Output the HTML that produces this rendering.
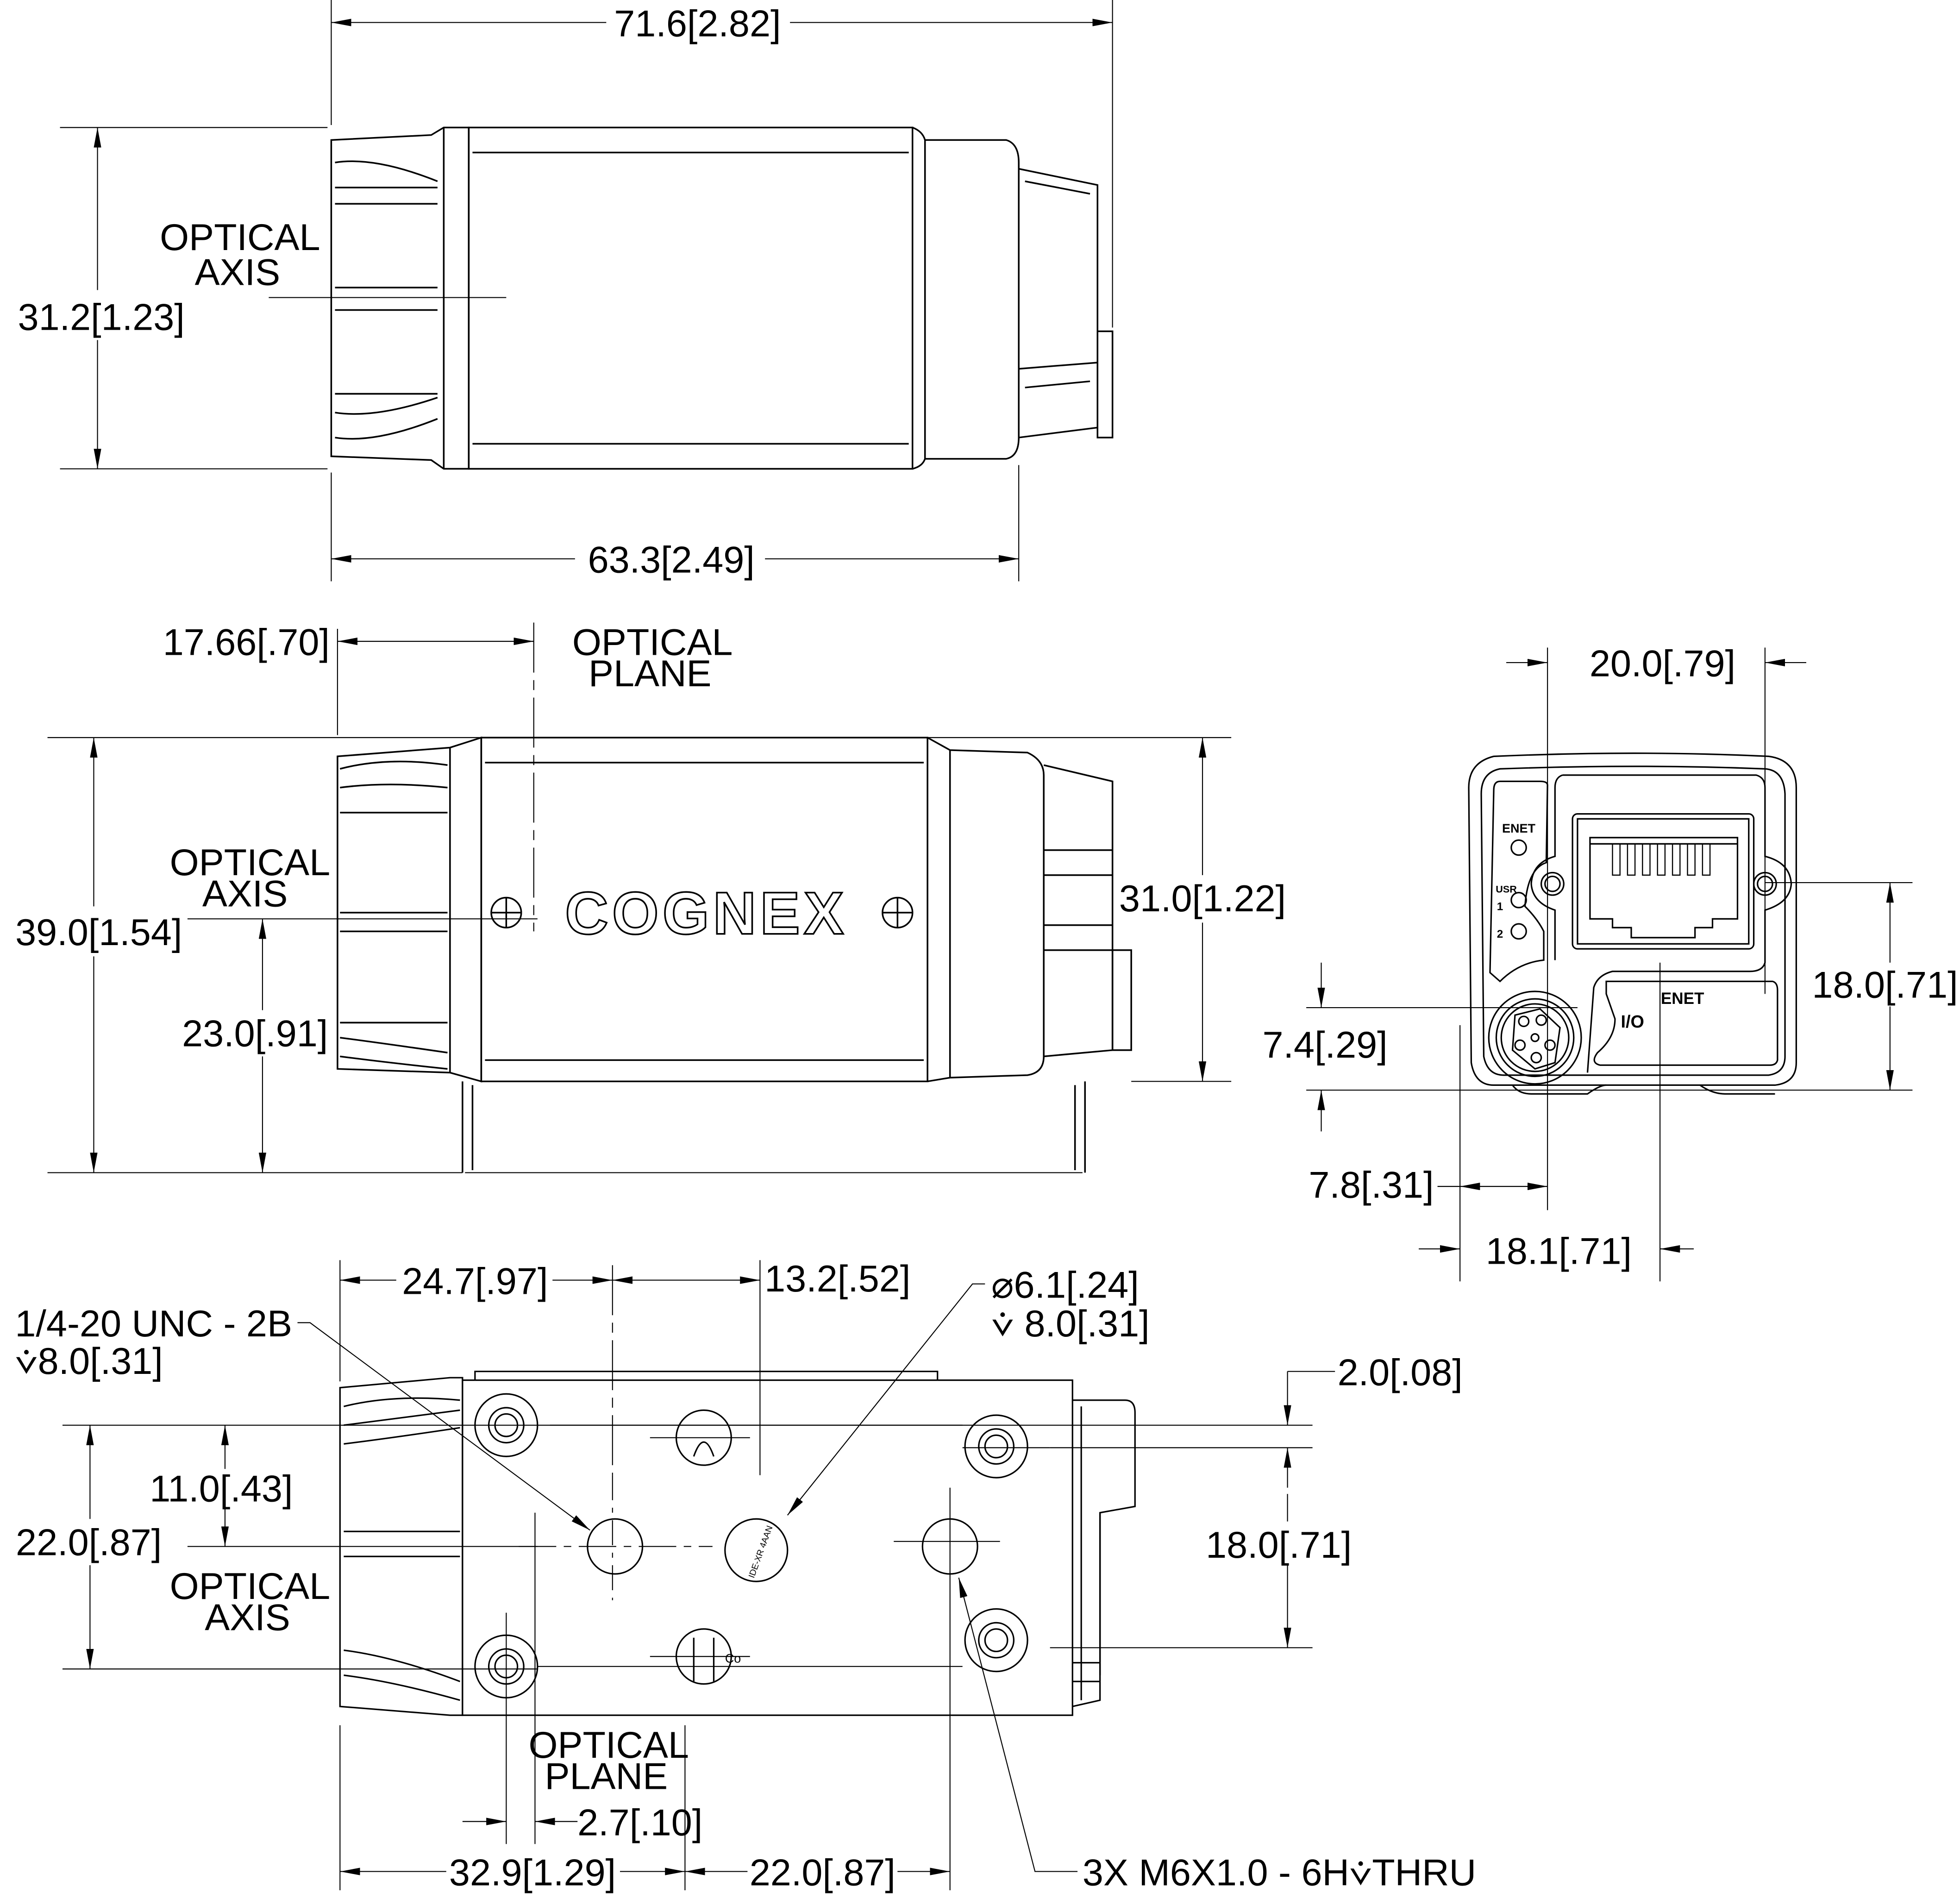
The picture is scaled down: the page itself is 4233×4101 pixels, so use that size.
<!DOCTYPE html>
<html><head><meta charset="utf-8"><style>
html,body{margin:0;padding:0;background:#fff;}
svg{display:block;}
text{font-family:"Liberation Sans",sans-serif;font-size:30px;fill:#000;}
</style></head><body>
<svg width="4233" height="4101" viewBox="0 0 1568 1519" preserveAspectRatio="none" xmlns="http://www.w3.org/2000/svg">
<defs>
<marker id="a" viewBox="0 0 16 6" refX="16" refY="3" markerWidth="16" markerHeight="6" markerUnits="userSpaceOnUse" orient="auto-start-reverse"><path d="M0,0 L16,3 L0,6 z" fill="#000"/></marker>
</defs>
<rect width="1568" height="1519" fill="#fff"/>
<g fill="none" stroke="#000" stroke-width="0.8">
<line x1="265" y1="0" x2="265" y2="100"/><line x1="890" y1="0" x2="890" y2="262"/>
<line x1="265" y1="18" x2="485" y2="18" marker-start="url(#a)"/><line x1="632" y1="18" x2="890" y2="18" marker-end="url(#a)"/>
<line x1="48" y1="102" x2="262" y2="102"/><line x1="48" y1="375" x2="262" y2="375"/>
<line x1="78" y1="102" x2="78" y2="232" marker-start="url(#a)"/><line x1="78" y1="272" x2="78" y2="375" marker-end="url(#a)"/>
<line x1="265" y1="378" x2="265" y2="465"/><line x1="815" y1="372" x2="815" y2="465"/>
<line x1="265" y1="447" x2="460" y2="447" marker-start="url(#a)"/><line x1="612" y1="447" x2="815" y2="447" marker-end="url(#a)"/>
<line x1="215" y1="238" x2="405" y2="238"/>
</g>
<g fill="none" stroke="#000" stroke-width="1.3">
<path d="M265,112 L345,108 L355,102 L375,102 L375,375 L355,375 L345,368 L265,365 Z"/>
<line x1="355" y1="102" x2="355" y2="375"/>
<path d="M268,130 Q300,125 350,145"/><path d="M268,150 L350,150"/><path d="M268,163 L350,163"/>
<path d="M268,230 L350,230"/><path d="M268,248 L350,248"/><path d="M268,315 L350,315"/>
<path d="M268,330 Q300,335 350,318"/><path d="M268,350 Q300,355 350,335"/>
<rect x="375" y="102" width="355" height="273"/>
<line x1="378" y1="122" x2="727" y2="122"/><line x1="378" y1="355" x2="727" y2="355"/>
<path d="M730,102 Q738,105 740,112 L805,112 Q815,115 815,130 L815,350 Q815,365 805,367 L740,367 Q738,373 730,375"/>
<line x1="740" y1="112" x2="740" y2="367"/>
<path d="M815,135 L878,148 L878,342 L815,350"/><line x1="820" y1="145" x2="872" y2="155"/>
<line x1="815" y1="295" x2="878" y2="290"/><line x1="820" y1="310" x2="872" y2="305"/>
<rect x="878" y="265" width="12" height="85"/>
</g>
<text x="192" y="200" text-anchor="middle">OPTICAL</text><text x="190" y="228" text-anchor="middle">AXIS</text>
<text x="558" y="29" text-anchor="middle">71.6[2.82]</text>
<text x="81" y="264" text-anchor="middle">31.2[1.23]</text>
<text x="537" y="458" text-anchor="middle">63.3[2.49]</text>

<g fill="none" stroke="#000" stroke-width="0.8">
<line x1="270" y1="503" x2="270" y2="588"/><line x1="427" y1="498" x2="427" y2="745" stroke-dasharray="40 6 8 6"/>
<line x1="270" y1="513" x2="427" y2="513" marker-start="url(#a)" marker-end="url(#a)"/>
<line x1="38" y1="590" x2="985" y2="590"/><line x1="38" y1="938" x2="370" y2="938"/>
<line x1="75" y1="590" x2="75" y2="725" marker-start="url(#a)"/><line x1="75" y1="765" x2="75" y2="938" marker-end="url(#a)"/>
<line x1="905" y1="865" x2="985" y2="865"/>
<line x1="962" y1="590" x2="962" y2="700" marker-start="url(#a)"/><line x1="962" y1="738" x2="962" y2="865" marker-end="url(#a)"/>
<line x1="150" y1="735" x2="430" y2="735"/>
<line x1="210" y1="735" x2="210" y2="808" marker-start="url(#a)"/><line x1="210" y1="845" x2="210" y2="938" marker-end="url(#a)"/>
</g>
<g fill="none" stroke="#000" stroke-width="1.3">
<path d="M270,605 L360,598 L385,590 L385,865 L360,858 L270,855 Z"/>
<line x1="360" y1="598" x2="360" y2="858"/>
<path d="M272,615 Q310,605 358,612"/><path d="M272,630 Q310,625 358,630"/>
<line x1="272" y1="650" x2="358" y2="650"/><line x1="272" y1="730" x2="358" y2="730"/>
<line x1="272" y1="745" x2="358" y2="745"/><line x1="272" y1="818" x2="358" y2="818"/>
<path d="M272,830 Q310,835 358,842"/><path d="M272,845 Q310,850 358,855"/>
<rect x="385" y="590" width="357" height="275"/>
<line x1="388" y1="610" x2="739" y2="610"/><line x1="388" y1="848" x2="739" y2="848"/>
<path d="M742,590 L760,600 L822,602 Q835,608 835,620 L835,845 Q835,858 822,860 L760,862 L742,865"/>
<line x1="760" y1="600" x2="760" y2="862"/>
<path d="M835,612 L890,625 L890,840 L835,845"/>
<line x1="835" y1="680" x2="890" y2="680"/><line x1="835" y1="700" x2="890" y2="700"/>
<line x1="835" y1="740" x2="890" y2="740"/><line x1="835" y1="760" x2="890" y2="760"/>
<rect x="890" y="760" width="15" height="80"/>
<path d="M370,865 L370,938 M868,865 L868,938"/><line x1="372" y1="938" x2="866" y2="938" stroke-width="0.8"/>
<line x1="378" y1="868" x2="378" y2="936"/><line x1="860" y1="868" x2="860" y2="936"/>
<circle cx="405" cy="730" r="12"/><path d="M393,730 h24 M405,718 v24"/>
<circle cx="718" cy="730" r="12"/><path d="M706,730 h24 M718,718 v24"/>
</g>
<text x="565" y="747" text-anchor="middle" style="font-size:48px;font-weight:bold;fill:#fff;stroke:#000;stroke-width:1.3;letter-spacing:3px">COGNEX</text>
<text x="522" y="524" text-anchor="middle">OPTICAL</text><text x="520" y="549" text-anchor="middle">PLANE</text>
<text x="200" y="700" text-anchor="middle">OPTICAL</text><text x="196" y="725" text-anchor="middle">AXIS</text>
<text x="197" y="524" text-anchor="middle">17.66[.70]</text>
<text x="79" y="756" text-anchor="middle">39.0[1.54]</text>
<text x="962" y="729" text-anchor="middle">31.0[1.22]</text>
<text x="204" y="837" text-anchor="middle">23.0[.91]</text>

<g fill="none" stroke="#000" stroke-width="0.8">
<line x1="1238" y1="518" x2="1238" y2="968"/><line x1="1412" y1="518" x2="1412" y2="795"/>
<line x1="1205" y1="530" x2="1238" y2="530" marker-end="url(#a)"/><line x1="1445" y1="530" x2="1412" y2="530" marker-end="url(#a)"/>
<line x1="1412" y1="706" x2="1530" y2="706"/><line x1="1045" y1="872" x2="1530" y2="872"/>
<line x1="1512" y1="706" x2="1512" y2="770" marker-start="url(#a)"/><line x1="1512" y1="805" x2="1512" y2="872" marker-end="url(#a)"/>
<line x1="1045" y1="806" x2="1262" y2="806"/>
<line x1="1057" y1="770" x2="1057" y2="806" marker-end="url(#a)"/><line x1="1057" y1="905" x2="1057" y2="872" marker-end="url(#a)"/>
<line x1="1168" y1="820" x2="1168" y2="1025"/><line x1="1328" y1="770" x2="1328" y2="1025"/>
<line x1="1150" y1="949" x2="1168" y2="949"/><line x1="1168" y1="949" x2="1238" y2="949" marker-start="url(#a)" marker-end="url(#a)"/>
<line x1="1135" y1="999" x2="1168" y2="999" marker-end="url(#a)"/><line x1="1355" y1="999" x2="1328" y2="999" marker-end="url(#a)"/>
</g>
<g fill="none" stroke="#000" stroke-width="1.2">
<path d="M1195,605 Q1175,610 1175,630 L1177,850 Q1180,868 1195,868 L1420,868 Q1437,866 1437,850 L1437,630 Q1437,608 1415,605 Q1310,600 1195,605 Z"/>
<path d="M1200,615 Q1185,618 1185,635 L1187,845 Q1190,860 1203,860 L1415,860 Q1428,858 1428,845 L1428,635 Q1427,616 1412,615 Q1310,611 1200,615 Z"/>
<path d="M1200,625 Q1195,625 1195,632 L1192,778 L1200,785 Q1215,770 1235,768 L1235,745 Q1230,735 1220,725 Q1222,695 1237,690 L1238,628 Q1238,625 1232,625 Z"/>
<path d="M1250,620 L1405,620 Q1412,622 1412,630 L1412,685 Q1432,690 1433,707 Q1432,722 1412,728 L1412,770 Q1410,777 1400,777 L1290,777 Q1278,780 1275,790 L1270,858"/>
<path d="M1250,620 Q1244,622 1244,630 L1244,685 Q1226,690 1225,707 Q1226,722 1244,728 L1244,768"/>
<rect x="1258" y="651" width="145" height="108" rx="4"/>
<rect x="1262" y="655" width="137" height="100"/>
<path d="M1272,670 L1390,670 L1390,735 L1370,735 L1370,742 L1356,742 L1356,750 L1305,750 L1305,742 L1290,742 L1290,735 L1272,735 Z"/>
<line x1="1272" y1="675" x2="1390" y2="675"/>
<g stroke-width="0.9"><path d="M1290,675 v25 h6 v-25 M1302,675 v25 h6 v-25 M1314,675 v25 h6 v-25 M1326,675 v25 h6 v-25 M1338,675 v25 h6 v-25 M1350,675 v25 h6 v-25 M1362,675 v25 h6 v-25"/></g>
<circle cx="1242" cy="707" r="9"/><circle cx="1242" cy="707" r="6"/>
<circle cx="1412" cy="707" r="9"/><circle cx="1412" cy="707" r="6"/>
<circle cx="1215" cy="678" r="6"/><circle cx="1215" cy="720" r="6"/><circle cx="1215" cy="745" r="6"/>
<circle cx="1228" cy="830" r="37"/><circle cx="1228" cy="830" r="31"/><circle cx="1228" cy="830" r="27"/>
<path d="M1212,812 L1232,807 L1248,822 L1244,850 L1228,855 L1210,840 Z"/>
<circle cx="1219" cy="817" r="4"/><circle cx="1233" cy="816" r="4"/><circle cx="1228" cy="830" r="3"/><circle cx="1216" cy="836" r="4"/><circle cx="1240" cy="836" r="4"/><circle cx="1229" cy="846" r="4"/>
<path d="M1285,785 L1418,785 Q1422,786 1422,792 L1422,848 Q1421,852 1416,852 L1280,852 Q1272,850 1278,842 Q1292,830 1292,815 L1285,795 Z"/>
<path d="M1210,868 Q1215,875 1225,875 L1270,875 Q1280,868 1285,868 M1360,868 Q1370,875 1380,875 L1420,875"/>
</g>
<text x="1215" y="666" text-anchor="middle" style="font-size:10px;font-weight:bold">ENET</text>
<text x="1205" y="714" text-anchor="middle" style="font-size:8px;font-weight:bold">USR</text>
<text x="1200" y="728" text-anchor="middle" style="font-size:9px;font-weight:bold">1</text>
<text x="1200" y="750" text-anchor="middle" style="font-size:9px;font-weight:bold">2</text>
<text x="1346" y="803" text-anchor="middle" style="font-size:13px;font-weight:bold">ENET</text>
<text x="1306" y="822" text-anchor="middle" style="font-size:14px;font-weight:bold">I/O</text>
<text x="1330" y="541" text-anchor="middle">20.0[.79]</text>
<text x="1508" y="798" text-anchor="middle">18.0[.71]</text>
<text x="1060" y="846" text-anchor="middle">7.4[.29]</text>
<text x="1097" y="958" text-anchor="middle">7.8[.31]</text>
<text x="1247" y="1011" text-anchor="middle">18.1[.71]</text>

<g fill="none" stroke="#000" stroke-width="0.8">
<line x1="272" y1="1008" x2="272" y2="1105"/><line x1="272" y1="1380" x2="272" y2="1512"/>
<line x1="490" y1="1012" x2="490" y2="1180" stroke-dasharray="40 6 8 6"/><line x1="608" y1="1008" x2="608" y2="1180"/>
<line x1="272" y1="1024" x2="317" y2="1024" marker-start="url(#a)"/><line x1="442" y1="1024" x2="490" y2="1024" marker-end="url(#a)"/>
<line x1="490" y1="1024" x2="608" y2="1024" marker-start="url(#a)" marker-end="url(#a)"/>
<line x1="50" y1="1140" x2="1050" y2="1140"/><line x1="50" y1="1335" x2="430" y2="1335"/>
<line x1="840" y1="1158" x2="1050" y2="1158"/><line x1="840" y1="1318" x2="1050" y2="1318"/>
<line x1="72" y1="1140" x2="72" y2="1215" marker-start="url(#a)"/><line x1="72" y1="1252" x2="72" y2="1335" marker-end="url(#a)"/>
<line x1="180" y1="1140" x2="180" y2="1175" marker-start="url(#a)"/><line x1="180" y1="1205" x2="180" y2="1237" marker-end="url(#a)"/>
<line x1="150" y1="1237" x2="430" y2="1237"/>
<line x1="1030" y1="1097" x2="1068" y2="1097"/><line x1="1030" y1="1097" x2="1030" y2="1140" marker-end="url(#a)"/><line x1="1030" y1="1190" x2="1030" y2="1158" marker-end="url(#a)"/>
<line x1="1030" y1="1195" x2="1030" y2="1217"/>
<line x1="1030" y1="1252" x2="1030" y2="1318" marker-end="url(#a)"/>
<line x1="405" y1="1290" x2="405" y2="1475"/><line x1="428" y1="1210" x2="428" y2="1475"/>
<line x1="370" y1="1457" x2="405" y2="1457" marker-end="url(#a)"/><line x1="462" y1="1457" x2="428" y2="1457" marker-end="url(#a)"/>
<line x1="548" y1="1380" x2="548" y2="1512"/><line x1="760" y1="1190" x2="760" y2="1512"/>
<line x1="272" y1="1497" x2="357" y2="1497" marker-start="url(#a)"/><line x1="496" y1="1497" x2="548" y2="1497" marker-end="url(#a)"/>
<line x1="548" y1="1497" x2="598" y2="1497" marker-start="url(#a)"/><line x1="718" y1="1497" x2="760" y2="1497" marker-end="url(#a)"/>
<path d="M238,1058 L248,1058 L472,1224" marker-end="url(#a)"/>
<path d="M788,1027 L778,1027 L630,1212" marker-end="url(#a)"/>
<path d="M862,1497 L828,1497 L767,1262" marker-end="url(#a)"/>
<line x1="415" y1="1237" x2="570" y2="1237" stroke-dasharray="30 6 6 6"/><line x1="715" y1="1233" x2="800" y2="1233"/>
<line x1="490" y1="1180" x2="490" y2="1280" stroke-dasharray="20 6 4 6"/>
<line x1="440" y1="1140" x2="770" y2="1140"/><line x1="840" y1="1158" x2="770" y2="1158"/>
<line x1="430" y1="1333" x2="770" y2="1333"/><line x1="520" y1="1325" x2="600" y2="1325"/>
<line x1="520" y1="1150" x2="600" y2="1150"/>
</g>
<g fill="none" stroke="#000" stroke-width="1.2">
<path d="M272,1110 L360,1102 L370,1102 L370,1372 L360,1372 L272,1365 Z"/>
<path d="M275,1125 Q315,1115 368,1120"/><path d="M275,1140 Q315,1135 368,1128"/>
<path d="M275,1155 Q315,1150 368,1142"/>
<line x1="275" y1="1225" x2="368" y2="1225"/><line x1="275" y1="1245" x2="368" y2="1245"/>
<path d="M275,1320 Q315,1325 368,1345"/><path d="M275,1340 Q315,1345 368,1360"/>
<rect x="370" y="1104" width="488" height="268"/>
<path d="M380,1104 L380,1097 L750,1097 L750,1104"/>
<path d="M858,1120 L900,1120 Q908,1120 908,1130 L908,1205 L880,1210 L880,1360 L858,1365"/>
<line x1="865" y1="1125" x2="865" y2="1360"/><line x1="880" y1="1210" x2="880" y2="1340"/>
<line x1="858" y1="1330" x2="880" y2="1330"/><line x1="858" y1="1345" x2="880" y2="1345"/>
<circle cx="405" cy="1140" r="25"/><circle cx="405" cy="1140" r="14"/><circle cx="405" cy="1140" r="9"/>
<circle cx="797" cy="1157" r="25"/><circle cx="797" cy="1157" r="14"/><circle cx="797" cy="1157" r="9"/>
<circle cx="797" cy="1312" r="25"/><circle cx="797" cy="1312" r="14"/><circle cx="797" cy="1312" r="9"/>
<circle cx="405" cy="1333" r="25"/><circle cx="405" cy="1333" r="14"/><circle cx="405" cy="1333" r="9"/>
<circle cx="492" cy="1237" r="22"/><circle cx="760" cy="1237" r="22"/>
<circle cx="563" cy="1150" r="22"/><path d="M555,1165 Q563,1142 571,1165"/>
<circle cx="563" cy="1325" r="22"/><path d="M555,1310 L555,1345 M571,1310 L571,1345"/>
<circle cx="605" cy="1240" r="25"/>
</g>
<text x="605" y="1246" text-anchor="middle" transform="rotate(-70 605 1240)" style="font-size:7px">IDE-XR 4AAN</text>
<text x="580" y="1330" style="font-size:10px">Co</text>
<text x="12" y="1069">1/4-20 UNC - 2B</text>
<text x="12" y="1099">⩒8.0[.31]</text>
<text x="380" y="1035" text-anchor="middle">24.7[.97]</text>
<text x="670" y="1033" text-anchor="middle">13.2[.52]</text>
<text x="793" y="1038">⌀6.1[.24]</text>
<text x="793" y="1069">⩒ 8.0[.31]</text>
<text x="1070" y="1108">2.0[.08]</text>
<text x="71" y="1244" text-anchor="middle">22.0[.87]</text>
<text x="177" y="1201" text-anchor="middle">11.0[.43]</text>
<text x="1023" y="1246" text-anchor="middle">18.0[.71]</text>
<text x="200" y="1279" text-anchor="middle">OPTICAL</text><text x="198" y="1304" text-anchor="middle">AXIS</text>
<text x="487" y="1406" text-anchor="middle">OPTICAL</text><text x="485" y="1431" text-anchor="middle">PLANE</text>
<text x="512" y="1468" text-anchor="middle">2.7[.10]</text>
<text x="426" y="1508" text-anchor="middle">32.9[1.29]</text>
<text x="658" y="1508" text-anchor="middle">22.0[.87]</text>
<text x="866" y="1508">3X M6X1.0 - 6H⩒THRU</text>
</svg>
</body></html>
